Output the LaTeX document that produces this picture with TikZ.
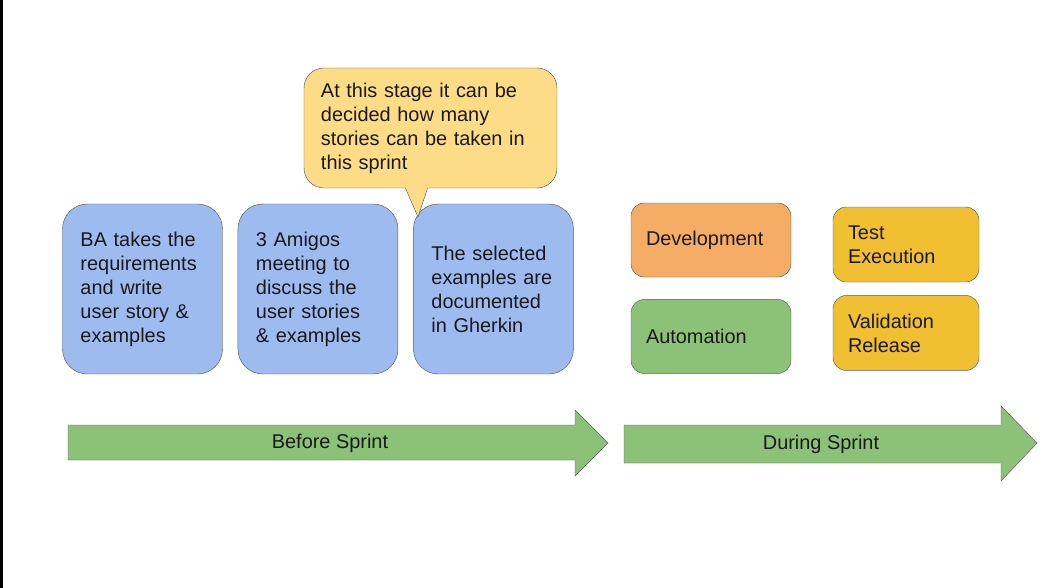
\documentclass[tikz,border=0pt]{standalone}
\usepackage{fontspec}
\setmainfont{Liberation Sans}
\usetikzlibrary{positioning, calc}
\definecolor{StoryBlue}{RGB}{158,187,240}
\definecolor{NoteYellow}{RGB}{252,220,135}
\definecolor{DevOrange}{RGB}{245,172,100}
\definecolor{AutoGreen}{RGB}{140,193,120}
\definecolor{TestYellow}{RGB}{241,191,50}
\definecolor{Outline}{RGB}{92,92,92}
\newcommand{\slidefont}{\fontsize{17}{20.5}\selectfont\color{black!90}}

\begin{document}
\begin{tikzpicture}[x=0.03cm, y=-0.03cm,
    story/.style={rectangle, rounded corners=0.75cm, draw=Outline, fill=StoryBlue, minimum width=4.8cm, minimum height=5.1cm, text width=3.72cm, inner sep=0pt, align=left, font=\slidefont},
    note/.style={rectangle, rounded corners=0.6cm, draw=Outline, fill=NoteYellow, minimum width=7.59cm, minimum height=3.6cm, text width=6.57cm, inner sep=0pt, align=left, font=\slidefont},
    task/.style={rectangle, rounded corners=0.4cm, draw=Outline, minimum width=4.8cm, minimum height=2.22cm, text width=3.9cm, inner sep=0pt, align=left, font=\slidefont},
    check/.style={task, fill=TestYellow, minimum width=4.38cm, minimum height=2.25cm, text width=3.48cm},
    phase/.style={draw=Outline, fill=AutoGreen},
    label/.style={font=\slidefont}
]
\useasboundingbox (0,0) rectangle (1051,588);
\fill[black] (0,0) rectangle (3,588);

% before sprint
\node[story] (ba) at (142.5,289) {BA takes the\\ requirements\\ and write\\ user story \&\\ examples};
\node[story, right=0.45cm of ba] (amigos) {3 Amigos\\ meeting to\\ discuss the\\ user stories\\ \& examples};
\node[story, right=0.45cm of amigos] (gherkin) {The selected\\ examples are\\ documented\\ in Gherkin};

% callout
\node[note] (callout) at (430.5,128) {At this stage it can be\\ decided how many\\ stories can be taken in\\ this sprint};
\coordinate (tip) at (418,217);
\fill[NoteYellow] ($(callout.south)+(-25,-1.5)$) -- (tip) -- ($(callout.south)+(-3,-1.5)$) -- cycle;
\draw[Outline] ($(callout.south)+(-25,0)$) -- (tip) -- ($(callout.south)+(-3,0)$);

% during sprint
\node[task, fill=DevOrange] (dev) at (711,240) {Development};
\node[task, fill=AutoGreen, below=0.66cm of dev] (auto) {Automation};
\node[check] (exec) at (906,244.5) {Test\\ Execution};
\node[check, below=0.39cm of exec] (release) {Validation\\ Release};

% phase arrows
\draw[phase] (68,425) -- (575,425) -- (575,410) -- (608,443) -- (575,476) -- (575,460) -- (68,460) -- cycle;
\draw[phase] (624,425) -- (1001,425) -- (1001,406) -- (1037,443) -- (1001,481) -- (1001,463) -- (624,463) -- cycle;
\node[label] (before) at (330,443) {Before Sprint};
\node[label] (during) at (821,444) {During Sprint};
\end{tikzpicture}
\end{document}
